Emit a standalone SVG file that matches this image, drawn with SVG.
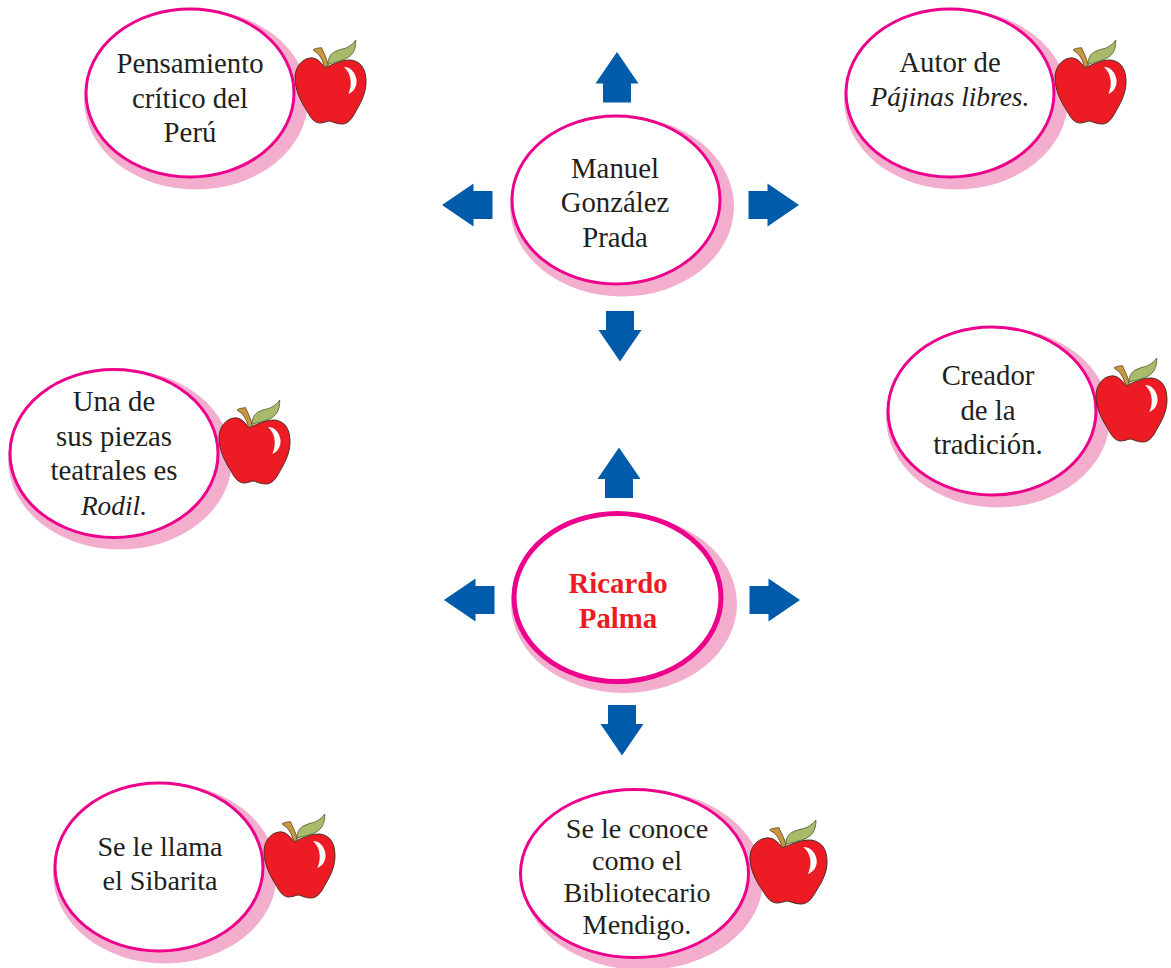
<svg xmlns="http://www.w3.org/2000/svg" width="1171" height="968" viewBox="0 0 1171 968">
<style>
.shadow{fill:#f4aecd}
.ring{fill:#fff;stroke:#ec008c;stroke-width:3}
.ring2{fill:#fff;stroke:#ec008c;stroke-width:5}
text{font-family:"Liberation Serif","Times New Roman",serif;font-size:28.800px;fill:#231f20;text-anchor:middle}
.red{fill:#ed1c24;font-weight:bold}
.it{font-style:italic;font-size:27.400px}
.sm{font-size:28.200px}
.arrow{fill:#005baa}
</style>
<defs>
<g id="apple">
<path d="M30 28C26 22 21 17 15 18C6 19 0 28 0 38C0 50 6 62 12 71C16 79 20 83 25 83C29 83 32 81 35 81C38 82 42 84 47 84C53 84 57 79 61 71C67 61 71 52 71 42C71 32 68 25 62 22C57 19 52 20 47 21C41 23 35 25 30 28Z" fill="#ed1c24" stroke="#3a2a20" stroke-width=".9"/>
<path d="M18.500 9.500C21 8 24 8 26.700 7.700L27.500 10C30 15 32 20 33.300 25L30 28C28 21 25 15 21 12C19.500 11.500 18.500 11 18.500 9.500Z" fill="#c8963e" stroke="#5a4020" stroke-width=".8"/>
<path d="M33 24.300C33 18 36 13 40 11.700C45 9 50 9 53 7C56 5 59 3 60.700 0C61 5 60 9 58 12.700C55 17 51 19 46.700 20.300C42 22 37 23 33 24.300Z" fill="#a9bb6a" stroke="#4a5a2a" stroke-width=".8"/>
<path d="M49 27C55 27 60 31 61.500 40C62 46 59 52 53.300 54C56.500 47 58 35 49 27Z" fill="#fff"/>
</g>
<path id="au" class="arrow" d="M0 0L21.500 31.500H14V50.500H-14V31.500H-21.500Z"/>
</defs>
<g id="connectors">
<use href="#au" transform="translate(617 52)"/>
<use href="#au" transform="translate(442 205) rotate(-90)"/>
<use href="#au" transform="translate(799 205) rotate(90)"/>
<use href="#au" transform="translate(620 361.500) rotate(180)"/>
<use href="#au" transform="translate(619 447.500)"/>
<use href="#au" transform="translate(444 600) rotate(-90)"/>
<use href="#au" transform="translate(800 600) rotate(90)"/>
<use href="#au" transform="translate(622 755.500) rotate(180)"/>
</g>
<g id="n-pensamiento">
<ellipse class="shadow" cx="196" cy="99.500" rx="112" ry="90"/>
<ellipse class="ring" cx="190" cy="93" rx="104" ry="84"/>
<text x="190" y="73">Pensamiento</text><text x="190" y="108">crítico del</text><text x="190" y="142">Perú</text>
<use href="#apple" transform="translate(295 40)"/>
</g>
<g id="n-autor">
<ellipse class="shadow" cx="956" cy="99.500" rx="112" ry="90"/>
<ellipse class="ring" cx="950" cy="93" rx="104" ry="84"/>
<text x="950" y="72">Autor de</text><text class="it" x="950" y="106">Pájinas libres.</text>
<use href="#apple" transform="translate(1055 40)"/>
</g>
<g id="n-creador">
<ellipse class="shadow" cx="998" cy="417.500" rx="112" ry="90"/>
<ellipse class="ring" cx="992" cy="411" rx="104" ry="84"/>
<text x="988" y="385">Creador</text><text x="988" y="420">de la</text><text x="988" y="454">tradición.</text>
<use href="#apple" transform="translate(1096 358)"/>
</g>
<g id="n-gonzalez">
<ellipse class="shadow" cx="622" cy="206.500" rx="112" ry="90"/>
<ellipse class="ring" cx="616" cy="200" rx="104" ry="84"/>
<text x="615" y="178">Manuel</text><text x="615" y="212">González</text><text x="615" y="247">Prada</text>
</g>
<g id="n-rodil">
<ellipse class="shadow" cx="120" cy="459.500" rx="112" ry="90"/>
<ellipse class="ring" cx="114" cy="453.500" rx="104" ry="84"/>
<text x="114" y="411">Una de</text><text x="114" y="446">sus piezas</text><text x="114" y="480">teatrales es</text><text class="it" x="114" y="515">Rodil.</text>
<use href="#apple" transform="translate(219 400)"/>
</g>
<g id="n-palma">
<ellipse class="shadow" cx="624" cy="604" rx="113" ry="89"/>
<ellipse class="ring2" cx="617.500" cy="597.500" rx="103.500" ry="84"/>
<text class="red" x="618" y="593">Ricardo</text><text class="red" x="618" y="628">Palma</text>
</g>
<g id="n-sibarita">
<ellipse class="shadow" cx="165" cy="873.500" rx="112" ry="90"/>
<ellipse class="ring" cx="159" cy="867" rx="104" ry="84"/>
<text class="sm" x="160" y="856">Se le llama</text><text class="sm" x="160" y="890">el Sibarita</text>
<use href="#apple" transform="translate(264 814)"/>
</g>
<g id="n-bibliotecario">
<ellipse class="shadow" cx="643" cy="880" rx="120" ry="90"/>
<ellipse class="ring" cx="634.500" cy="873.500" rx="114" ry="84"/>
<text class="sm" x="637" y="838">Se le conoce</text><text class="sm" x="637" y="870">como el</text><text class="sm" x="637" y="902">Bibliotecario</text><text class="sm" x="637" y="934">Mendigo.</text>
<use href="#apple" transform="translate(750 820) scale(1.085 1)"/>
</g>
</svg>
